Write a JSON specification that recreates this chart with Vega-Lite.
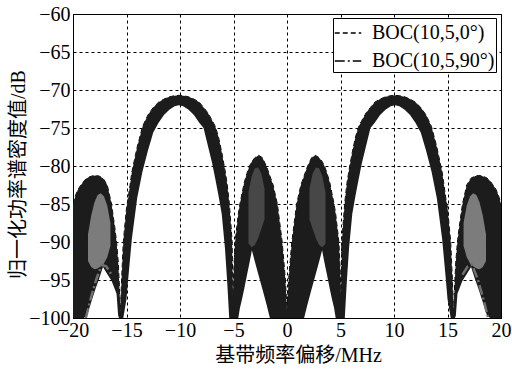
{
  "$schema": "https://vega.github.io/schema/vega-lite/v6.json",
  "autosize": "none",
  "width": 428,
  "height": 304,
  "padding": {"left": 73, "top": 14, "right": 11, "bottom": 53},
  "background": "white",
  "config": {
    "view": {"stroke": "black", "strokeWidth": 1},
    "axis": {
      "grid": true, "gridColor": "black", "gridDash": [3, 3], "gridWidth": 1, "gridOpacity": 1,
      "ticks": false, "domain": true, "domainColor": "black", "domainWidth": 1,
      "labelFont": "Liberation Serif", "labelFontSize": 20, "labelColor": "black",
      "labelFlush": false, "labelOverlap": false,
      "titleFont": "Liberation Serif, Noto Sans CJK SC", "titleFontSize": 20, "titleFontWeight": "normal", "titleColor": "black"
    },
    "legend": {
      "orient": "none", "legendX": 260, "legendY": 4,
      "fillColor": "white", "strokeColor": "black", "padding": 1,
      "labelFont": "Liberation Serif", "labelFontSize": 20, "labelColor": "black", "labelOffset": 10,
      "symbolType": "stroke", "symbolSize": 700,
      "rowPadding": 4, "labelLimit": 300, "title": null
    }
  },
  "datasets": {
    "band": [
      {"x": -20.0, "hi": -85.0, "lo": -100}, {"x": -19.75, "hi": -83.8, "lo": -100}, {"x": -19.5, "hi": -83.0, "lo": -100},
      {"x": -19.0, "hi": -82.0, "lo": -100}, {"x": -18.7, "hi": -81.6, "lo": -99.7}, {"x": -18.5, "hi": -81.45, "lo": -98.8},
      {"x": -18.2, "hi": -81.3, "lo": -97.5}, {"x": -17.9, "hi": -81.25, "lo": -96.2}, {"x": -17.6, "hi": -81.3, "lo": -95.0},
      {"x": -17.2, "hi": -81.6, "lo": -93.3}, {"x": -16.8, "hi": -82.5, "lo": -94.2}, {"x": -16.4, "hi": -85.0, "lo": -95.1},
      {"x": -16.1, "hi": -88.0, "lo": -96.2}, {"x": -15.93, "hi": -90.0, "lo": -96.8}, {"x": -15.78, "hi": -92.5, "lo": -99.7},
      {"x": -15.69, "hi": -95.0, "lo": -100}, {"x": -15.6, "hi": -98.0, "lo": -100}, {"x": -15.55, "hi": -99.5, "lo": -100},
      {"x": -15.5, "hi": -96.5, "lo": -100}, {"x": -15.46, "hi": -95.0, "lo": -100}, {"x": -15.3, "hi": -90.0, "lo": -100},
      {"x": -15.0, "hi": -85.5, "lo": -97.5}, {"x": -14.85, "hi": -84.3, "lo": -95.0}, {"x": -14.5, "hi": -80.8, "lo": -89.6},
      {"x": -14.0, "hi": -77.5, "lo": -84.2}, {"x": -13.5, "hi": -74.8, "lo": -80.7}, {"x": -13.0, "hi": -73.3, "lo": -78.0},
      {"x": -12.5, "hi": -72.3, "lo": -75.6}, {"x": -12.0, "hi": -71.6, "lo": -74.3}, {"x": -11.5, "hi": -71.2, "lo": -73.3},
      {"x": -11.0, "hi": -70.9, "lo": -72.6}, {"x": -10.5, "hi": -70.75, "lo": -72.15}, {"x": -10.1, "hi": -70.7, "lo": -72.0},
      {"x": -9.7, "hi": -70.75, "lo": -72.15}, {"x": -9.2, "hi": -70.9, "lo": -72.6}, {"x": -8.7, "hi": -71.2, "lo": -73.3},
      {"x": -8.2, "hi": -71.6, "lo": -74.3}, {"x": -7.8, "hi": -72.3, "lo": -75.0}, {"x": -7.4, "hi": -73.0, "lo": -77.3},
      {"x": -7.0, "hi": -74.0, "lo": -79.6}, {"x": -6.7, "hi": -74.8, "lo": -81.7}, {"x": -6.4, "hi": -76.2, "lo": -83.9},
      {"x": -6.1, "hi": -78.2, "lo": -86.3}, {"x": -5.8, "hi": -80.5, "lo": -90.8}, {"x": -5.6, "hi": -82.3, "lo": -95.0},
      {"x": -5.4, "hi": -84.8, "lo": -100}, {"x": -5.2, "hi": -88.5, "lo": -100}, {"x": -5.13, "hi": -90.0, "lo": -100},
      {"x": -5.05, "hi": -97.0, "lo": -100}, {"x": -4.98, "hi": -94.0, "lo": -100}, {"x": -4.85, "hi": -90.0, "lo": -100},
      {"x": -4.55, "hi": -86.3, "lo": -100}, {"x": -4.4, "hi": -85.0, "lo": -98.7}, {"x": -4.2, "hi": -83.6, "lo": -97.5},
      {"x": -4.0, "hi": -82.2, "lo": -96.2}, {"x": -3.75, "hi": -81.0, "lo": -94.4}, {"x": -3.5, "hi": -80.0, "lo": -92.7},
      {"x": -3.28, "hi": -79.4, "lo": -91.1}, {"x": -3.0, "hi": -78.9, "lo": -92.6}, {"x": -2.65, "hi": -78.6, "lo": -94.4},
      {"x": -2.3, "hi": -78.9, "lo": -96.2}, {"x": -1.9, "hi": -80.1, "lo": -98.3}, {"x": -1.6, "hi": -81.3, "lo": -100},
      {"x": -1.3, "hi": -82.5, "lo": -100}, {"x": -0.9, "hi": -85.0, "lo": -100}, {"x": -0.45, "hi": -90.0, "lo": -100},
      {"x": -0.15, "hi": -95.0, "lo": -100}, {"x": 0.0, "hi": -99.0, "lo": -100},
      {"x": 0.15, "hi": -95.0, "lo": -100}, {"x": 0.45, "hi": -90.0, "lo": -100}, {"x": 0.9, "hi": -85.0, "lo": -100},
      {"x": 1.3, "hi": -82.5, "lo": -100}, {"x": 1.6, "hi": -81.3, "lo": -100}, {"x": 1.9, "hi": -80.1, "lo": -98.3},
      {"x": 2.3, "hi": -78.9, "lo": -96.2}, {"x": 2.65, "hi": -78.6, "lo": -94.4}, {"x": 3.0, "hi": -78.9, "lo": -92.6},
      {"x": 3.28, "hi": -79.4, "lo": -91.1}, {"x": 3.5, "hi": -80.0, "lo": -92.7}, {"x": 3.75, "hi": -81.0, "lo": -94.4},
      {"x": 4.0, "hi": -82.2, "lo": -96.2}, {"x": 4.2, "hi": -83.6, "lo": -97.5}, {"x": 4.4, "hi": -85.0, "lo": -98.7},
      {"x": 4.55, "hi": -86.3, "lo": -100}, {"x": 4.85, "hi": -90.0, "lo": -100}, {"x": 4.98, "hi": -94.0, "lo": -100},
      {"x": 5.05, "hi": -97.0, "lo": -100}, {"x": 5.13, "hi": -90.0, "lo": -100}, {"x": 5.2, "hi": -88.5, "lo": -100},
      {"x": 5.4, "hi": -84.8, "lo": -100}, {"x": 5.6, "hi": -82.3, "lo": -95.0}, {"x": 5.8, "hi": -80.5, "lo": -90.8},
      {"x": 6.1, "hi": -78.2, "lo": -86.3}, {"x": 6.4, "hi": -76.2, "lo": -83.9}, {"x": 6.7, "hi": -74.8, "lo": -81.7},
      {"x": 7.0, "hi": -74.0, "lo": -79.6}, {"x": 7.4, "hi": -73.0, "lo": -77.3}, {"x": 7.8, "hi": -72.3, "lo": -75.0},
      {"x": 8.2, "hi": -71.6, "lo": -74.3}, {"x": 8.7, "hi": -71.2, "lo": -73.3}, {"x": 9.2, "hi": -70.9, "lo": -72.6},
      {"x": 9.7, "hi": -70.75, "lo": -72.15}, {"x": 10.1, "hi": -70.7, "lo": -72.0}, {"x": 10.5, "hi": -70.75, "lo": -72.15},
      {"x": 11.0, "hi": -70.9, "lo": -72.6}, {"x": 11.5, "hi": -71.2, "lo": -73.3}, {"x": 12.0, "hi": -71.6, "lo": -74.3},
      {"x": 12.5, "hi": -72.3, "lo": -75.6}, {"x": 13.0, "hi": -73.3, "lo": -78.0}, {"x": 13.5, "hi": -74.8, "lo": -80.7},
      {"x": 14.0, "hi": -77.5, "lo": -84.2}, {"x": 14.5, "hi": -80.8, "lo": -89.6}, {"x": 14.85, "hi": -84.3, "lo": -95.0},
      {"x": 15.0, "hi": -85.5, "lo": -97.5}, {"x": 15.3, "hi": -90.0, "lo": -100}, {"x": 15.46, "hi": -95.0, "lo": -100},
      {"x": 15.5, "hi": -96.5, "lo": -100}, {"x": 15.55, "hi": -99.5, "lo": -100}, {"x": 15.6, "hi": -98.0, "lo": -100},
      {"x": 15.69, "hi": -95.0, "lo": -100}, {"x": 15.78, "hi": -92.5, "lo": -99.7}, {"x": 15.93, "hi": -90.0, "lo": -96.8},
      {"x": 16.1, "hi": -88.0, "lo": -96.2}, {"x": 16.4, "hi": -85.0, "lo": -95.1}, {"x": 16.8, "hi": -82.5, "lo": -94.2},
      {"x": 17.2, "hi": -81.6, "lo": -93.3}, {"x": 17.6, "hi": -81.3, "lo": -95.0}, {"x": 17.9, "hi": -81.25, "lo": -96.2},
      {"x": 18.2, "hi": -81.3, "lo": -97.5}, {"x": 18.5, "hi": -81.45, "lo": -98.8}, {"x": 18.7, "hi": -81.6, "lo": -99.7},
      {"x": 19.0, "hi": -82.0, "lo": -100}, {"x": 19.5, "hi": -83.0, "lo": -100}, {"x": 19.75, "hi": -83.8, "lo": -100},
      {"x": 20.0, "hi": -85.0, "lo": -100}
    ],
    "tex": [
      {"part": "Lo", "ring": "outer", "x": -18.6, "hi": -89.0, "lo": -92.5},
      {"part": "Lo", "ring": "outer", "x": -18.3, "hi": -86.5, "lo": -93.3},
      {"part": "Lo", "ring": "outer", "x": -18.0, "hi": -84.8, "lo": -93.6},
      {"part": "Lo", "ring": "outer", "x": -17.7, "hi": -83.8, "lo": -93.5},
      {"part": "Lo", "ring": "outer", "x": -17.4, "hi": -83.6, "lo": -93.2},
      {"part": "Lo", "ring": "outer", "x": -17.1, "hi": -84.0, "lo": -92.8},
      {"part": "Lo", "ring": "outer", "x": -16.8, "hi": -85.2, "lo": -92.0},
      {"part": "Lo", "ring": "outer", "x": -16.5, "hi": -87.5, "lo": -90.5},
      {"part": "Li", "ring": "inner", "x": -3.6, "hi": -83.5, "lo": -90.2},
      {"part": "Li", "ring": "inner", "x": -3.3, "hi": -81.3, "lo": -90.7},
      {"part": "Li", "ring": "inner", "x": -3.0, "hi": -80.3, "lo": -90.4},
      {"part": "Li", "ring": "inner", "x": -2.7, "hi": -80.2, "lo": -89.5},
      {"part": "Li", "ring": "inner", "x": -2.4, "hi": -81.0, "lo": -88.3},
      {"part": "Li", "ring": "inner", "x": -2.1, "hi": -83.0, "lo": -87.0},
      {"part": "Ri", "ring": "inner", "x": 2.1, "hi": -83.0, "lo": -87.0},
      {"part": "Ri", "ring": "inner", "x": 2.4, "hi": -81.0, "lo": -88.3},
      {"part": "Ri", "ring": "inner", "x": 2.7, "hi": -80.2, "lo": -89.5},
      {"part": "Ri", "ring": "inner", "x": 3.0, "hi": -80.3, "lo": -90.4},
      {"part": "Ri", "ring": "inner", "x": 3.3, "hi": -81.3, "lo": -90.7},
      {"part": "Ri", "ring": "inner", "x": 3.6, "hi": -83.5, "lo": -90.2},
      {"part": "Ro", "ring": "outer", "x": 16.5, "hi": -87.5, "lo": -90.5},
      {"part": "Ro", "ring": "outer", "x": 16.8, "hi": -85.2, "lo": -92.0},
      {"part": "Ro", "ring": "outer", "x": 17.1, "hi": -84.0, "lo": -92.8},
      {"part": "Ro", "ring": "outer", "x": 17.4, "hi": -83.6, "lo": -93.2},
      {"part": "Ro", "ring": "outer", "x": 17.7, "hi": -83.8, "lo": -93.5},
      {"part": "Ro", "ring": "outer", "x": 18.0, "hi": -84.8, "lo": -93.6},
      {"part": "Ro", "ring": "outer", "x": 18.3, "hi": -86.5, "lo": -93.3},
      {"part": "Ro", "ring": "outer", "x": 18.6, "hi": -89.0, "lo": -92.5}
    ],
    "l90": [
      {"seg": "L", "x": -18.8, "hi": -100}, {"seg": "L", "x": -18.3, "hi": -97.2}, {"seg": "L", "x": -17.8, "hi": -94.8},
      {"seg": "L", "x": -17.3, "hi": -93.0}, {"seg": "L", "x": -16.9, "hi": -93.2}, {"seg": "L", "x": -16.4, "hi": -94.3},
      {"seg": "R", "x": 16.4, "hi": -94.3}, {"seg": "R", "x": 16.9, "hi": -93.2}, {"seg": "R", "x": 17.3, "hi": -93.0},
      {"seg": "R", "x": 17.8, "hi": -94.8}, {"seg": "R", "x": 18.3, "hi": -97.2}, {"seg": "R", "x": 18.8, "hi": -100}
    ]
  },
  "encoding": {
    "x": {
      "field": "x", "type": "quantitative",
      "scale": {"domain": [-20, 20], "nice": false, "zero": false},
      "axis": {
        "values": [-20, -15, -10, -5, 0, 5, 10, 15, 20], "labelPadding": 2,
        "title": "基带频率偏移/MHz", "titleX": 225, "titleY": 37, "titleAlign": "center", "titleBaseline": "middle"
      }
    },
    "y": {
      "field": "hi", "type": "quantitative",
      "scale": {"domain": [-100, -60], "nice": false, "zero": false},
      "axis": {
        "values": [-100, -95, -90, -85, -80, -75, -70, -65, -60], "labelPadding": 3,
        "title": "归一化功率谱密度值/dB", "titleX": -55, "titleY": 160, "titleAngle": 270,
        "titleAlign": "center", "titleBaseline": "middle"
      }
    }
  },
  "layer": [
    {
      "data": {"name": "band"},
      "mark": {"type": "line", "color": "black", "strokeWidth": 1, "clip": true},
      "encoding": {
        "strokeDash": {
          "datum": "BOC(10,5,0°)", "type": "nominal",
          "scale": {"domain": ["BOC(10,5,0°)", "BOC(10,5,90°)"], "range": [[5, 3], [10, 3, 2, 3]]},
          "legend": {
            "encode": {"symbols": {"update": {"stroke": {"value": "black"}, "strokeWidth": {"value": 1}, "opacity": {"value": 1}}}}
          }
        }
      }
    },
    {
      "data": {"name": "band"},
      "mark": {"type": "area", "color": "#1c1c1c", "clip": true},
      "encoding": {
        "y2": {"field": "lo"}
      }
    },
    {
      "data": {"name": "tex"},
      "mark": {"type": "area", "clip": true},
      "encoding": {
        "y2": {"field": "lo"},
        "detail": {"field": "part"},
        "color": {"field": "ring", "type": "nominal", "scale": {"domain": ["inner", "outer"], "range": ["#474747", "#7c7c7c"]}, "legend": null}
      }
    },
    {
      "data": {"name": "l90"},
      "mark": {"type": "line", "color": "#707070", "strokeWidth": 2.5, "clip": true},
      "encoding": {
        "detail": {"field": "seg"},
        "strokeDash": {"datum": "BOC(10,5,90°)", "type": "nominal"}
      }
    }
  ]
}
